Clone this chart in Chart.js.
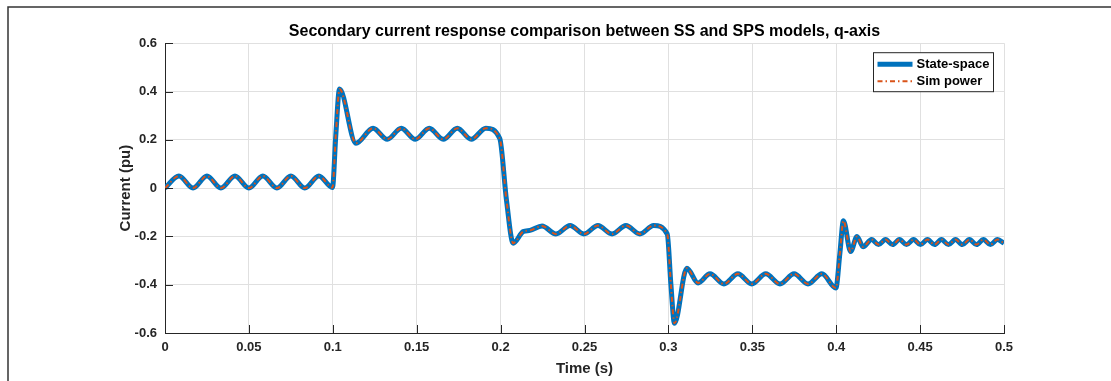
<!DOCTYPE html>
<html>
<head>
<meta charset="utf-8">
<script src="https://cdn.jsdelivr.net/npm/chart.js@4/dist/chart.umd.min.js"></script>
<style>
  html, body { margin: 0; padding: 0; background: #ffffff; }
  canvas { display: block; }
</style>
</head>
<body>
<canvas id="chart" width="1111" height="381"></canvas>
<script>
// Time stamps (s) of the sampled waveform: turning points and step edges
const timeS = [
  0, 0.0083, 0.0167, 0.025, 0.0333, 0.0417, 0.05, 0.0583, 0.0667, 0.075, 0.0833, 0.0917, 0.0998,
  0.1018, 0.104, 0.1138, 0.124, 0.1325, 0.1408, 0.1492, 0.1575, 0.1658, 0.1742, 0.1825, 0.1912, 0.1995,
  0.2035, 0.2075, 0.2135, 0.2175, 0.2247, 0.233, 0.2414, 0.2497, 0.258, 0.2664, 0.2747, 0.283, 0.2912, 0.2993,
  0.3015, 0.3036, 0.311, 0.3177, 0.3248, 0.3331, 0.3414, 0.3497, 0.358, 0.3665, 0.3749, 0.3832, 0.3915, 0.3998,
  0.4022, 0.4043, 0.4086, 0.4124, 0.416, 0.4211, 0.4252, 0.4294, 0.4336, 0.4377, 0.4419, 0.4461, 0.4502,
  0.4544, 0.4586, 0.4627, 0.4669, 0.4711, 0.4752, 0.4794, 0.4836, 0.4877, 0.4919, 0.4961, 0.5
];

// q-axis secondary current (pu), state-space model
const stateSpace = [
  0.0, 0.05, 0.0, 0.05, 0.0, 0.05, 0.0, 0.05, 0.0, 0.05, 0.0, 0.05, 0.002,
  0.22, 0.41, 0.186, 0.248, 0.202, 0.248, 0.202, 0.248, 0.202, 0.248, 0.202, 0.248, 0.205,
  -0.05, -0.228, -0.18, -0.175, -0.157, -0.19, -0.155, -0.19, -0.155, -0.19, -0.155, -0.19, -0.155, -0.19,
  -0.40, -0.56, -0.332, -0.393, -0.355, -0.397, -0.355, -0.397, -0.355, -0.397, -0.355, -0.397, -0.355, -0.414,
  -0.27, -0.135, -0.263, -0.2, -0.243, -0.213, -0.234, -0.213, -0.234, -0.213, -0.234, -0.213, -0.234,
  -0.213, -0.234, -0.213, -0.234, -0.213, -0.234, -0.213, -0.234, -0.213, -0.234, -0.213, -0.228
];

// q-axis secondary current (pu), SimPowerSystems model
const simPower = [
  0.0, 0.05, 0.0, 0.05, 0.0, 0.05, 0.0, 0.05, 0.0, 0.05, 0.0, 0.05, 0.002,
  0.22, 0.41, 0.186, 0.248, 0.202, 0.248, 0.202, 0.248, 0.202, 0.248, 0.202, 0.248, 0.205,
  -0.05, -0.228, -0.18, -0.175, -0.157, -0.19, -0.155, -0.19, -0.155, -0.19, -0.155, -0.19, -0.155, -0.19,
  -0.40, -0.56, -0.332, -0.393, -0.355, -0.397, -0.355, -0.397, -0.355, -0.397, -0.355, -0.397, -0.355, -0.414,
  -0.27, -0.135, -0.263, -0.2, -0.243, -0.213, -0.234, -0.213, -0.234, -0.213, -0.234, -0.213, -0.234,
  -0.213, -0.234, -0.213, -0.234, -0.213, -0.234, -0.213, -0.234, -0.213, -0.234, -0.213, -0.228
];

const seriesNames = ['State-space', 'Sim power'];
const xTickLabels = ['0', '0.05', '0.1', '0.15', '0.2', '0.25', '0.3', '0.35', '0.4', '0.45', '0.5'];
const yTickLabels = ['-0.6', '-0.4', '-0.2', '0', '0.2', '0.4', '0.6'];

const FONT = "'Liberation Sans', Arial, Helvetica, sans-serif";
const AXIS_COLOR = '#262626';
const BLUE = '#0072BD';
const ORANGE = '#D95319';
const DASH_DOT = [5, 3, 1.5, 3];

const toPoints = (vals) => vals.map((v, i) => ({ x: timeS[i], y: v }));

// Outer frame lines along the top and left of the figure
const framePlugin = {
  id: 'frame',
  beforeDraw(chart) {
    const ctx = chart.ctx;
    ctx.save();
    ctx.strokeStyle = '#333333';
    ctx.lineWidth = 1.5;
    ctx.beginPath();
    ctx.moveTo(8, chart.height);
    ctx.lineTo(8, 7);
    ctx.lineTo(chart.width, 7);
    ctx.stroke();
    ctx.restore();
  }
};

// Inward-pointing tick marks on the left and bottom axes
const innerTicksPlugin = {
  id: 'innerTicks',
  afterDraw(chart) {
    const ctx = chart.ctx;
    const { x, y } = chart.scales;
    const area = chart.chartArea;
    const len = 8;
    ctx.save();
    ctx.strokeStyle = AXIS_COLOR;
    ctx.lineWidth = 1;
    ctx.beginPath();
    x.ticks.forEach(t => {
      const px = Math.round(x.getPixelForValue(t.value)) + 0.5;
      ctx.moveTo(px, area.bottom);
      ctx.lineTo(px, area.bottom - len);
    });
    y.ticks.forEach(t => {
      const py = Math.round(y.getPixelForValue(t.value)) + 0.5;
      ctx.moveTo(area.left, py);
      ctx.lineTo(area.left + len, py);
    });
    ctx.stroke();
    ctx.restore();
  }
};

// Boxed legend in the upper right corner of the plot
const boxLegendPlugin = {
  id: 'boxLegend',
  afterDraw(chart) {
    const ctx = chart.ctx;
    const area = chart.chartArea;
    const bx = area.right - 130.5, by = area.top + 9.5, bw = 120, bh = 39;
    ctx.save();
    ctx.fillStyle = '#ffffff';
    ctx.fillRect(bx, by, bw, bh);
    ctx.strokeStyle = AXIS_COLOR;
    ctx.lineWidth = 1;
    ctx.strokeRect(bx, by, bw, bh);
    const rows = [by + 11.5, by + 28.5];
    chart.data.datasets.forEach((ds, i) => {
      const ly = rows[i];
      ctx.beginPath();
      ctx.strokeStyle = ds.borderColor;
      ctx.lineWidth = ds.borderWidth;
      ctx.setLineDash(ds.borderDash || []);
      ctx.moveTo(bx + 4, ly);
      ctx.lineTo(bx + 39, ly);
      ctx.stroke();
      ctx.setLineDash([]);
      ctx.fillStyle = '#000000';
      ctx.font = 'bold 13px ' + FONT;
      ctx.textBaseline = 'middle';
      ctx.textAlign = 'left';
      ctx.fillText(ds.label, bx + 43, ly + 0.5);
    });
    ctx.restore();
  }
};

new Chart(document.getElementById('chart'), {
  type: 'line',
  data: {
    datasets: [
      {
        label: seriesNames[0],
        data: toPoints(stateSpace),
        borderColor: BLUE,
        borderWidth: 5,
        pointRadius: 0,
        cubicInterpolationMode: 'monotone',
        order: 2
      },
      {
        label: seriesNames[1],
        data: toPoints(simPower),
        borderColor: ORANGE,
        borderWidth: 2,
        borderDash: DASH_DOT,
        pointRadius: 0,
        cubicInterpolationMode: 'monotone',
        order: 1
      }
    ]
  },
  options: {
    responsive: false,
    animation: false,
    devicePixelRatio: 1,
    layout: { padding: { left: 117, right: 107, top: 22, bottom: 0 } },
    plugins: {
      legend: { display: false },
      tooltip: { enabled: false },
      title: {
        display: true,
        fullSize: false,
        text: 'Secondary current response comparison between SS and SPS models, q-axis',
        color: '#000000',
        font: { family: FONT, size: 16, weight: 'bold', lineHeight: 1.2 },
        padding: { top: 0, bottom: 2 }
      }
    },
    scales: {
      x: {
        type: 'linear',
        min: 0,
        max: 0.5,
        afterFit(scale) { scale.height = 48; },
        ticks: {
          stepSize: 0.05,
          autoSkip: false,
          maxRotation: 0,
          padding: 7,
          color: AXIS_COLOR,
          font: { family: FONT, size: 13, weight: 'bold' },
          callback: (v, i) => xTickLabels[i]
        },
        grid: { color: '#e0e0e0', lineWidth: 1, drawTicks: false },
        border: { display: true, color: AXIS_COLOR, width: 1 },
        title: {
          display: true,
          text: 'Time (s)',
          color: AXIS_COLOR,
          font: { family: FONT, size: 15, weight: 'bold', lineHeight: 1.2 },
          padding: { top: 0, bottom: 3 }
        }
      },
      y: {
        type: 'linear',
        min: -0.6,
        max: 0.6,
        afterFit(scale) { scale.width = 48; },
        ticks: {
          stepSize: 0.2,
          autoSkip: false,
          padding: 8,
          color: AXIS_COLOR,
          font: { family: FONT, size: 13, weight: 'bold' },
          callback: (v, i) => yTickLabels[i]
        },
        grid: { color: '#e0e0e0', lineWidth: 1, drawTicks: false },
        border: { display: true, color: AXIS_COLOR, width: 1 },
        title: {
          display: true,
          text: 'Current (pu)',
          color: AXIS_COLOR,
          font: { family: FONT, size: 15, weight: 'bold', lineHeight: 1.2 },
          padding: { top: 0, bottom: 0 }
        }
      }
    }
  },
  plugins: [framePlugin, innerTicksPlugin, boxLegendPlugin]
});
</script>
</body>
</html>
